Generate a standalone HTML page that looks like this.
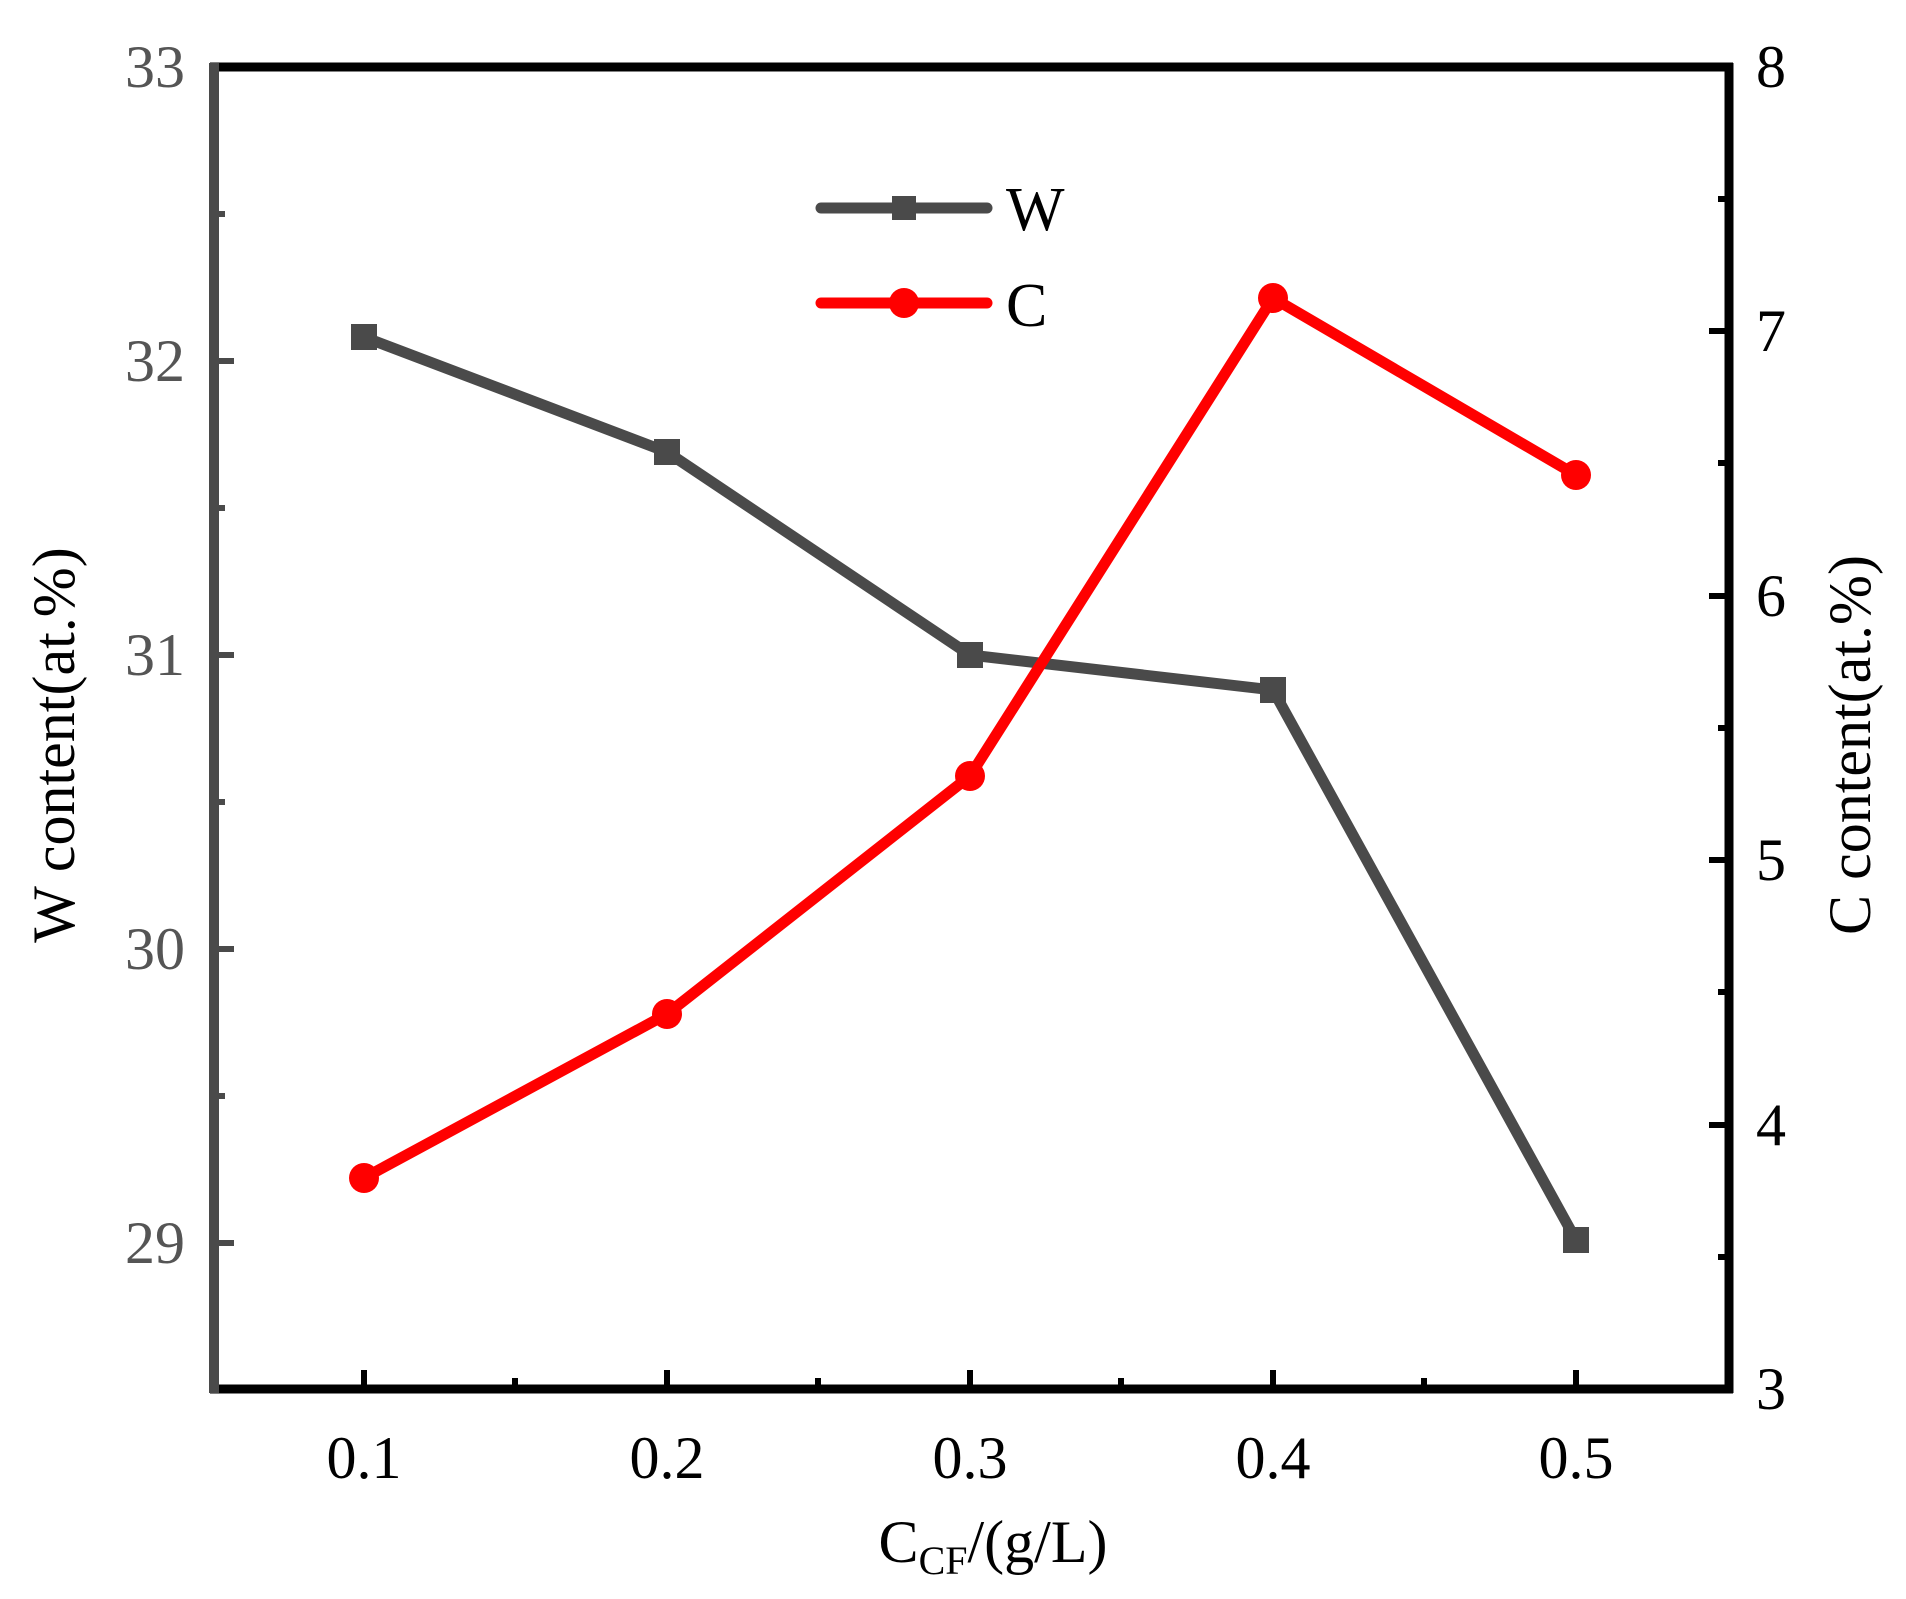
<!DOCTYPE html>
<html><head><style>body{margin:0;background:#fff}svg{display:block}</style></head><body>
<svg width="1906" height="1599" xmlns="http://www.w3.org/2000/svg" font-family="Liberation Serif, serif">
<rect width="1906" height="1599" fill="#fff"/>
<line x1="210" y1="67" x2="1733" y2="67" stroke="#000" stroke-width="9"/>
<line x1="1729" y1="63" x2="1729" y2="1393" stroke="#000" stroke-width="9"/>
<line x1="210" y1="1389" x2="1733" y2="1389" stroke="#000" stroke-width="9"/>
<line x1="214" y1="63" x2="214" y2="1393" stroke="#4a4a4a" stroke-width="10"/>
<g stroke="#000" stroke-width="6">
<line x1="364" y1="1389" x2="364" y2="1370"/><line x1="667" y1="1389" x2="667" y2="1370"/><line x1="970" y1="1389" x2="970" y2="1370"/><line x1="1273" y1="1389" x2="1273" y2="1370"/><line x1="1576" y1="1389" x2="1576" y2="1370"/>
<line x1="515" y1="1389" x2="515" y2="1378"/><line x1="818" y1="1389" x2="818" y2="1378"/><line x1="1121" y1="1389" x2="1121" y2="1378"/><line x1="1424" y1="1389" x2="1424" y2="1378"/>
</g>
<g stroke="#4a4a4a" stroke-width="6">
<line x1="214" y1="361" x2="234" y2="361"/><line x1="214" y1="655" x2="234" y2="655"/><line x1="214" y1="949" x2="234" y2="949"/><line x1="214" y1="1243" x2="234" y2="1243"/>
<line x1="214" y1="214" x2="225" y2="214"/><line x1="214" y1="508" x2="225" y2="508"/><line x1="214" y1="802" x2="225" y2="802"/><line x1="214" y1="1096" x2="225" y2="1096"/>
</g>
<g stroke="#000" stroke-width="6">
<line x1="1729" y1="331" x2="1709" y2="331"/><line x1="1729" y1="596" x2="1709" y2="596"/><line x1="1729" y1="860" x2="1709" y2="860"/><line x1="1729" y1="1125" x2="1709" y2="1125"/>
<line x1="1729" y1="199" x2="1718" y2="199"/><line x1="1729" y1="463" x2="1718" y2="463"/><line x1="1729" y1="728" x2="1718" y2="728"/><line x1="1729" y1="992" x2="1718" y2="992"/><line x1="1729" y1="1257" x2="1718" y2="1257"/>
</g>
<g font-size="60" fill="#555" text-anchor="end">
<text x="185" y="87">33</text><text x="185" y="381">32</text><text x="185" y="675">31</text><text x="185" y="969">30</text><text x="185" y="1263">29</text>
</g>
<g font-size="60" fill="#000" text-anchor="start">
<text x="1756" y="87">8</text><text x="1756" y="351">7</text><text x="1756" y="616">6</text><text x="1756" y="880">5</text><text x="1756" y="1145">4</text><text x="1756" y="1409">3</text>
</g>
<g font-size="60" fill="#000" text-anchor="middle">
<text x="364" y="1478">0.1</text><text x="667" y="1478">0.2</text><text x="970" y="1478">0.3</text><text x="1273" y="1478">0.4</text><text x="1576" y="1478">0.5</text>
</g>
<text x="993" y="1562" font-size="60" text-anchor="middle">C<tspan font-size="40" dy="12">CF</tspan><tspan dy="-12">/(g/L)</tspan></text>
<text transform="translate(74,745) rotate(-90)" font-size="60" text-anchor="middle">W content(at.%)</text>
<text transform="translate(1870,745) rotate(-90)" font-size="60" text-anchor="middle">C content(at.%)</text>
<polyline points="364,337 667,452 970,655 1273,690 1576,1240" fill="none" stroke="#4a4a4a" stroke-width="11" stroke-linejoin="round"/>
<g fill="#4a4a4a">
<rect x="351" y="324" width="26" height="26"/><rect x="654" y="439" width="26" height="26"/><rect x="957" y="642" width="26" height="26"/><rect x="1260" y="677" width="26" height="26"/><rect x="1563" y="1227" width="26" height="26"/>
</g>
<polyline points="364,1178 667,1014 970,776 1273,298 1576,475" fill="none" stroke="#f00" stroke-width="11" stroke-linejoin="round"/>
<g fill="#f00">
<circle cx="364" cy="1178" r="15"/><circle cx="667" cy="1014" r="15"/><circle cx="970" cy="776" r="15"/><circle cx="1273" cy="298" r="15"/><circle cx="1576" cy="475" r="15"/>
</g>
<line x1="821" y1="208" x2="987" y2="208" stroke="#4a4a4a" stroke-width="11" stroke-linecap="round"/>
<rect x="892" y="196" width="24" height="24" fill="#4a4a4a"/>
<text x="1006" y="230" font-size="62">W</text>
<line x1="821" y1="303" x2="987" y2="303" stroke="#f00" stroke-width="11" stroke-linecap="round"/>
<circle cx="904" cy="303" r="15" fill="#f00"/>
<text x="1006" y="326" font-size="62">C</text>
</svg>
</body></html>
